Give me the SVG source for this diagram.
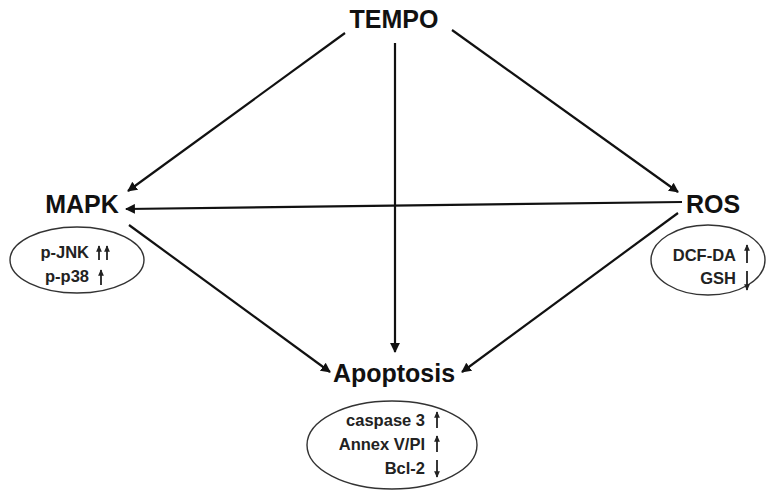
<svg xmlns="http://www.w3.org/2000/svg" width="770" height="491" viewBox="0 0 770 491">
<style>
.title{font-family:"Liberation Sans",Arial,sans-serif;font-weight:bold;font-size:25px;fill:#111}
.item{font-family:"Liberation Sans",Arial,sans-serif;font-weight:bold;font-size:16.5px;fill:#222}
.conn{stroke:#111;stroke-width:2.2;fill:none;marker-end:url(#ah)}
.ell{fill:#fff;stroke:#333;stroke-width:1.4}
.sm{stroke:#222;stroke-width:1.8;fill:none}
</style>
<defs>
<marker id="ah" viewBox="0 0 10 10" refX="9" refY="5" markerWidth="4.5" markerHeight="4.5" orient="auto" markerUnits="strokeWidth">
<path d="M0,0 L10,5 L0,10 Z" fill="#111"/>
</marker>
<marker id="sa" viewBox="0 0 10 10" refX="9" refY="5" markerWidth="3.6" markerHeight="3.6" orient="auto" markerUnits="strokeWidth">
<path d="M0,0.5 L10,5 L0,9.5 Z" fill="#222"/>
</marker>
</defs>
<rect width="770" height="491" fill="#fff"/>
<g id="connectors">
<line class="conn" x1="345" y1="33" x2="128" y2="191"/>
<line class="conn" x1="452" y1="30" x2="678" y2="192"/>
<line class="conn" x1="395" y1="43" x2="395" y2="352"/>
<line class="conn" x1="682" y1="202" x2="126" y2="209"/>
<line class="conn" x1="129" y1="225" x2="330" y2="372"/>
<line class="conn" x1="678" y1="213" x2="462" y2="372"/>
</g>
<g id="tempo">
<text class="title" x="394" y="28" text-anchor="middle">TEMPO</text>
</g>
<g id="mapk">
<text class="title" x="82" y="213" text-anchor="middle">MAPK</text>
<ellipse class="ell" cx="77" cy="260" rx="67" ry="33"/>
<text class="item" x="89" y="258" text-anchor="end">p-JNK</text>
<text class="item" x="89" y="282" text-anchor="end">p-p38</text>
<line class="sm" x1="99" y1="260" x2="99" y2="246" marker-end="url(#sa)"/>
<line class="sm" x1="107" y1="260" x2="107" y2="246" marker-end="url(#sa)"/>
<line class="sm" x1="101" y1="285" x2="101" y2="270" marker-end="url(#sa)"/>
</g>
<g id="ros">
<text class="title" x="713" y="213" text-anchor="middle">ROS</text>
<ellipse class="ell" cx="708" cy="260" rx="57" ry="35"/>
<text class="item" x="736" y="261" text-anchor="end">DCF-DA</text>
<text class="item" x="736" y="284" text-anchor="end">GSH</text>
<line class="sm" x1="747" y1="263" x2="747" y2="245" marker-end="url(#sa)"/>
<line class="sm" x1="747" y1="271" x2="747" y2="290" marker-end="url(#sa)"/>
</g>
<g id="apoptosis">
<text class="title" x="394" y="382" text-anchor="middle">Apoptosis</text>
<ellipse class="ell" cx="392" cy="445" rx="85" ry="44"/>
<text class="item" x="425" y="426" text-anchor="end">caspase 3</text>
<text class="item" x="425" y="450" text-anchor="end">Annex V/PI</text>
<text class="item" x="425" y="474" text-anchor="end">Bcl-2</text>
<line class="sm" x1="437" y1="428" x2="437" y2="412" marker-end="url(#sa)"/>
<line class="sm" x1="437" y1="452" x2="437" y2="436" marker-end="url(#sa)"/>
<line class="sm" x1="437" y1="460" x2="437" y2="477" marker-end="url(#sa)"/>
</g>
</svg>
